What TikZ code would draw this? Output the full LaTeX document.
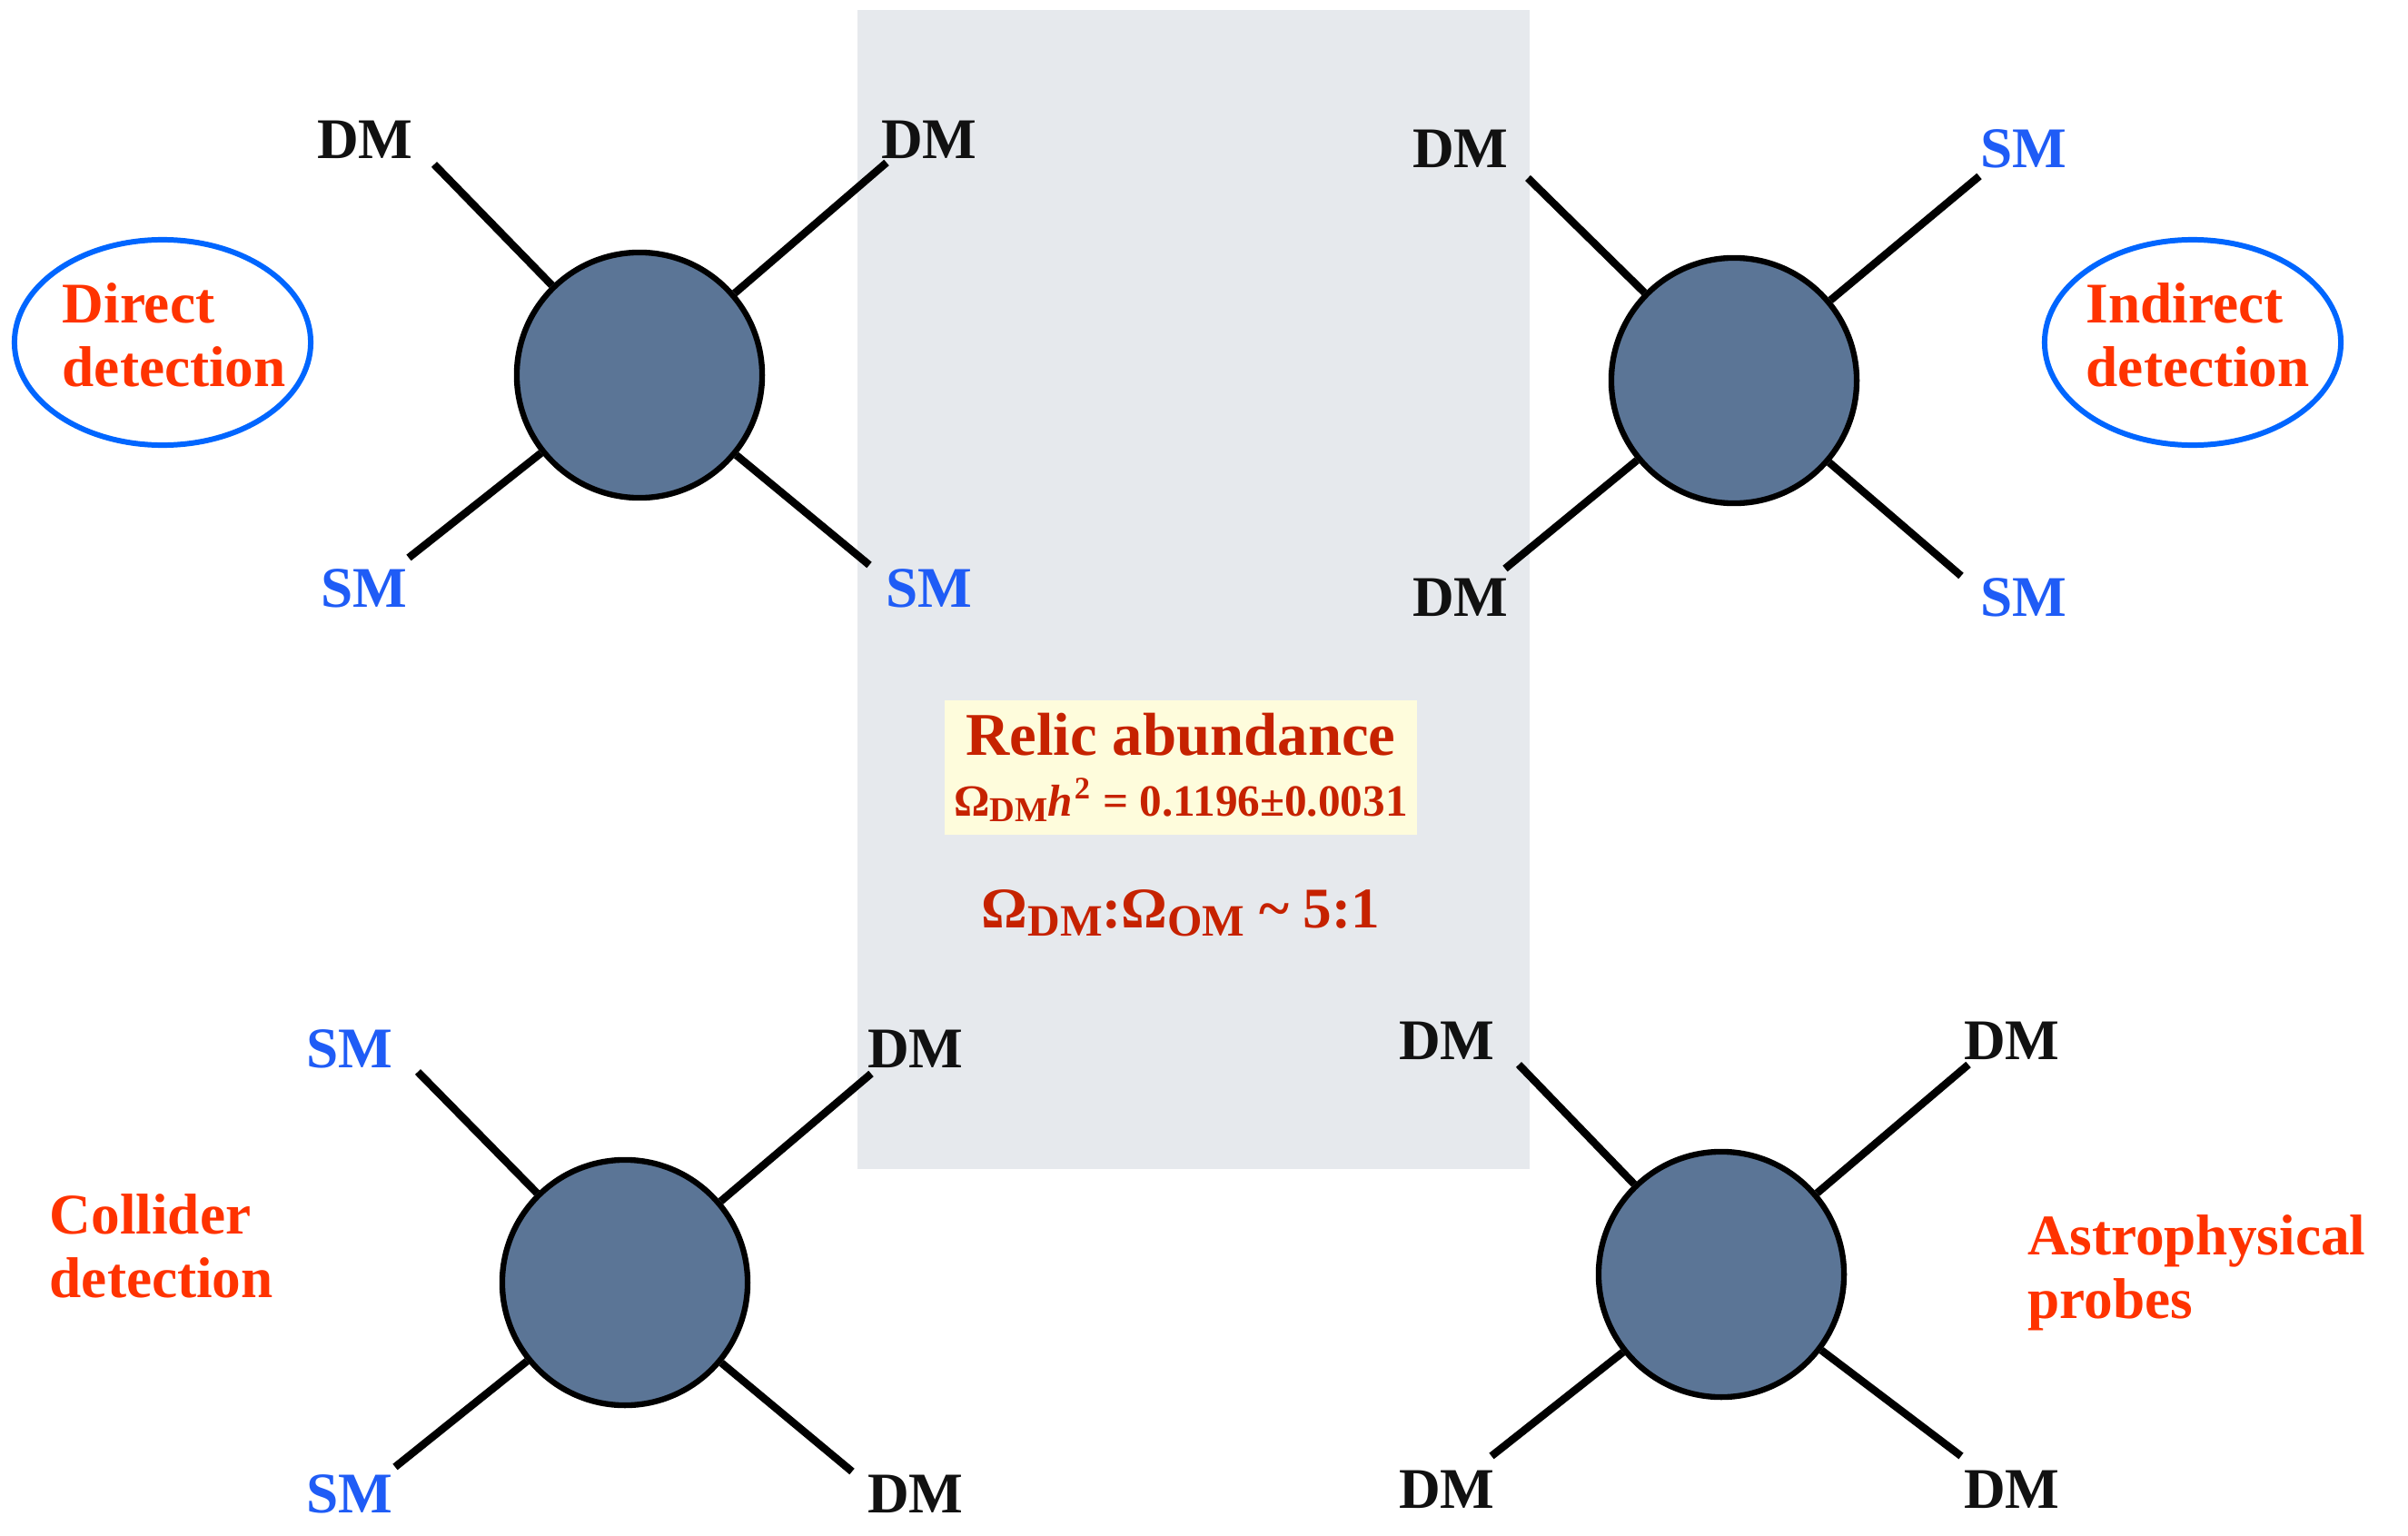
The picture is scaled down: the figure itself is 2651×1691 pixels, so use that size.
\documentclass[tikz,border=0pt]{standalone}
\usepackage{fontspec}
\setmainfont{Liberation Serif}
\usetikzlibrary{shapes.geometric}
\definecolor{blobc}{HTML}{5B7596}
\definecolor{dmc}{HTML}{111111}
\definecolor{smc}{HTML}{1F5CF6}
\definecolor{orangec}{HTML}{FF3300}
\definecolor{ringc}{HTML}{0066FF}
\definecolor{relicc}{HTML}{C62200}
\definecolor{panelc}{HTML}{E6E9ED}
\definecolor{boxc}{HTML}{FEFCDC}
\newcommand\lowsub[1]{\raisebox{-0.3ex}{\scalebox{0.78}{#1}}}
\begin{document}
\begin{tikzpicture}[x=0.01cm,y=-0.01cm,
  blob/.style={circle, draw=black, line width=1.8pt, fill=blobc, minimum size=2.7cm, inner sep=0pt},
  leg/.style={line width=2.4pt, draw=black},
  dm/.style={font=\fontsize{18}{20}\selectfont\bfseries, text=dmc, inner sep=0pt},
  sm/.style={dm, text=smc},
  ring/.style={ellipse, draw=ringc, line width=1.7pt, minimum width=3.26cm, minimum height=2.26cm, inner sep=0pt},
  cat/.style={font=\fontsize{18}{20}\selectfont\bfseries, text=orangec, align=left, inner sep=0pt, anchor=north west},
  relic/.style={text=relicc, inner sep=0pt}]
\useasboundingbox (0,0) rectangle (2651,1691);
\fill[white] (0,0) rectangle (2651,1691);
% central panel
\node[fill=panelc, minimum width=7.40cm, minimum height=12.76cm, inner sep=0pt] (panel) at (1314,649) {};
\node[fill=boxc, minimum width=5.19cm, minimum height=1.47cm, inner sep=0pt, align=center, relic] (box) at (1300,845)
  {{\fontsize{19}{20}\selectfont\bfseries Relic abundance}\\[7pt]
   {\fontsize{14}{16}\selectfont\bfseries Ω\lowsub{DM}\textit{h}\kern0.5pt\textsuperscript{2} = 0.1196±0.0031}};
\node[relic, font=\fontsize{18}{20}\selectfont\bfseries] (ratio) at (1300,1005) {Ω\lowsub{DM}:Ω\lowsub{OM} \textasciitilde{} 5:1};
% blobs
\node[blob] (A) at (704,413) {};
\node[blob] (B) at (1909,419) {};
\node[blob] (C) at (688,1412) {};
\node[blob] (D) at (1895,1403) {};
% leg ends
\coordinate (A1) at (478,181); \coordinate (A2) at (976,179);
\coordinate (A3) at (450,614); \coordinate (A4) at (957,622);
\coordinate (B1) at (1682,196); \coordinate (B2) at (2179,194);
\coordinate (B3) at (1657,626); \coordinate (B4) at (2159,634);
\coordinate (C1) at (460,1180); \coordinate (C2) at (959,1182);
\coordinate (C3) at (435,1615); \coordinate (C4) at (938,1620);
\coordinate (D1) at (1672,1172); \coordinate (D2) at (2167,1172);
\coordinate (D3) at (1642,1603); \coordinate (D4) at (2159,1603);
\foreach \n in {A,B,C,D}{
  \foreach \k in {1,2,3,4}{ \draw[leg] (\n) -- (\n\k); }
}
% labels
\node[dm] (lA1) at (402,154) {DM};
\node[dm] (lA2) at (1023,154) {DM};
\node[sm] (lA3) at (401,648) {SM};
\node[sm] (lA4) at (1023,648) {SM};
\node[dm] (lB1) at (1608,164) {DM};
\node[sm] (lB2) at (2228,164) {SM};
\node[dm] (lB3) at (1608,658) {DM};
\node[sm] (lB4) at (2228,658) {SM};
\node[sm] (lC1) at (385,1155) {SM};
\node[dm] (lC2) at (1008,1155) {DM};
\node[sm] (lC3) at (385,1645) {SM};
\node[dm] (lC4) at (1008,1645) {DM};
\node[dm] (lD1) at (1593,1146) {DM};
\node[dm] (lD2) at (2215,1146) {DM};
\node[dm] (lD3) at (1593,1640) {DM};
\node[dm] (lD4) at (2215,1640) {DM};
% categories
\node[ring] (ringL) at (179,377) {};
\node[ring] (ringR) at (2414,377) {};
\node[cat] (direct) at (68,311) {Direct\\detection};
\node[cat] (indirect) at (2296,311) {Indirect\\detection};
\node[cat] (collider) at (54,1314) {Collider\\detection};
\node[cat] (astro) at (2232,1337) {Astrophysical\\probes};
\end{tikzpicture}
\end{document}
